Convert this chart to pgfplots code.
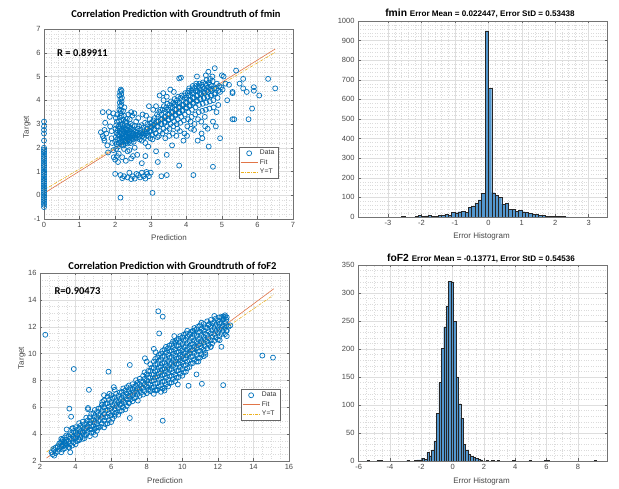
\documentclass[border=0pt]{standalone}
\usepackage{pgfplots}
\pgfplotsset{compat=1.18}
\usepackage{fontspec}
\setmainfont{Liberation Sans}
\newfontfamily\titlefont{Carlito}
\definecolor{mblue}{RGB}{0,114,189}
\definecolor{morange}{RGB}{217,83,25}
\definecolor{myellow}{RGB}{237,177,32}
\definecolor{barfill}{RGB}{83,151,206}
\definecolor{baredge}{RGB}{38,38,38}

\pgfplotsset{
  mstyle/.style={
    scale only axis,
    anchor=south west,
    axis line style={black!55, line width=0.5pt},
    tick style={black!60, line width=0.4pt},
    tick align=inside,
    major tick length=2.5pt,
    minor tick length=0pt,
    grid=both,
    major grid style={black!13, line width=0.35pt},
    minor grid style={black!14, dotted, line width=0.35pt},
    tick label style={font=\fontsize{7.5}{8}\selectfont, text=black!72},
    /pgf/number format/assume math mode=true,
    /pgf/number format/1000 sep={},
    scaled ticks=false,
  },
  lgstyle/.style={
    legend style={font=\fontsize{6.8}{7.5}\selectfont, draw=black!60, line width=0.4pt,
      fill=white, inner xsep=1.5pt, inner ysep=1pt, row sep=-0.8pt, text=black!80},
    legend cell align=left,
  },
  scat/.style={only marks, mark=o, mark size=2.5pt, mblue, line width=0.7pt},
  fitline/.style={morange!80, line width=0.6pt},
  ytline/.style={myellow, line width=0.6pt, dash pattern=on 3pt off 1.2pt on 0.6pt off 1.2pt},
  histbar/.style={ybar, bar shift=0pt, fill=barfill, draw=baredge, line width=0.35pt},
}

\begin{document}
\begin{tikzpicture}
\fill[white] (0pt,0pt) rectangle (619pt,489pt);

% ---------------- fmin: prediction vs target ----------------
\begin{axis}[mstyle, lgstyle, at={(44pt,270pt)}, width=249pt, height=190pt,
  xmin=0, xmax=7, ymin=-1, ymax=7, xtick={0,...,7}, ytick={-1,...,7},
  minor tick num=4, clip=false,
  legend style={at={(0.94,0.379)}, anchor=north east}]
\addplot[scat] coordinates {
(0,-0.50)(0,-0.40)(0,-0.32)(0,-0.25)(0,-0.18)(0,-0.10)(0,-0.03)(0,0.05)(0,0.12)(0,0.20)(0,0.28)(0,0.35)(0,0.42)(0,0.50)(0,0.58)(0,0.65)(0,0.72)(0,0.80)(0,0.88)(0,0.95)(0,1.02)(0,1.10)(0,1.18)(0,1.25)(0,1.32)(0,1.40)(0,1.48)(0,1.55)(0,1.62)(0,1.70)(0,1.78)(0,1.85)(0,1.92)(0,2.00)(0,2.30)(0,2.60)(0,2.75)(0,2.90)(0,3.10)
(2.00,2.25)(2.02,2.45)(2.04,2.62)(2.01,2.80)(2.03,2.95)(2.05,3.10)(2.06,2.35)(2.08,2.55)(2.07,2.72)(2.09,2.88)(2.02,3.25)(2.06,3.40)(2.04,2.15)(2.08,2.05)(2.03,1.95)
(2.10,2.20)(2.12,2.38)(2.11,2.50)(2.13,2.66)(2.12,2.82)(2.14,2.98)(2.11,3.12)(2.13,3.28)(2.15,3.45)(2.12,3.60)(2.14,3.75)(2.13,3.90)(2.15,4.05)(2.12,4.20)(2.14,4.35)(2.16,4.45)(2.18,4.40)(2.17,4.25)(2.19,4.10)(2.18,3.95)(2.17,3.80)(2.16,3.55)(2.18,3.35)(2.17,3.15)(2.16,2.90)(2.18,2.75)(2.17,2.58)(2.19,2.42)(2.16,2.28)(2.18,2.12)
(2.20,2.22)(2.22,2.35)(2.21,2.48)(2.23,2.60)(2.22,2.72)(2.24,2.85)(2.21,3.00)(2.23,3.18)(2.25,3.35)(2.22,3.55)(2.26,2.30)(2.27,2.45)(2.28,2.55)(2.26,2.68)(2.29,2.80)(2.27,2.95)(2.28,3.10)(2.26,3.70)(2.24,2.10)(2.29,2.20)
(2.30,2.28)(2.32,2.40)(2.31,2.52)(2.33,2.64)(2.32,2.78)(2.34,2.92)(2.31,3.05)(2.33,3.22)(2.36,2.35)(2.37,2.48)(2.38,2.60)(2.36,2.74)(2.39,2.88)(2.37,3.40)(2.35,2.18)(2.39,2.25)
(2.40,2.32)(2.42,2.45)(2.41,2.58)(2.43,2.70)(2.42,2.85)(2.44,3.00)(2.41,3.20)(2.46,2.38)(2.47,2.50)(2.48,2.62)(2.46,2.78)(2.49,2.95)(2.45,3.50)(2.48,3.35)(2.44,2.20)
(2.50,2.35)(2.52,2.48)(2.51,2.60)(2.53,2.75)(2.55,2.92)(2.56,2.42)(2.58,2.55)(2.57,2.68)(2.59,3.10)(2.54,3.45)(2.52,2.25)
(2.60,2.40)(2.62,2.52)(2.61,2.65)(2.63,2.80)(2.66,2.45)(2.68,2.58)(2.67,2.90)(2.65,3.25)(2.69,2.35)
(2.70,2.50)(2.72,2.62)(2.71,2.75)(2.74,2.95)(2.76,2.48)(2.78,2.60)(2.77,3.40)(2.79,2.85)(2.75,2.30)
(2.80,2.55)(2.82,2.70)(2.81,2.42)(2.84,3.05)(2.86,2.60)(2.88,2.78)(2.87,3.35)(2.89,2.50)(2.85,2.20)
(2.90,2.62)(2.92,2.80)(2.91,3.00)(2.94,2.50)(2.96,2.70)(2.98,2.90)(2.97,3.20)(2.95,3.75)(2.99,2.40)(2.93,2.05)
(3.00,2.70)(3.02,2.85)(3.01,3.05)(3.04,2.55)(3.06,2.95)(3.08,3.15)(3.07,3.60)(3.05,2.35)(3.09,2.75)
(3.10,2.80)(3.12,3.00)(3.11,3.25)(3.14,2.60)(3.16,3.10)(3.18,3.40)(3.17,2.90)(3.15,3.75)(3.19,2.45)
(3.20,2.90)(3.22,3.10)(3.21,3.30)(3.24,3.50)(3.26,2.70)(3.28,3.20)(3.27,3.60)(3.25,4.20)(3.29,3.00)(3.23,2.50)
(3.30,3.00)(3.32,3.20)(3.31,3.40)(3.34,3.60)(3.36,2.80)(3.38,3.30)(3.37,3.75)(3.35,4.30)(3.39,3.05)(3.33,2.60)(3.36,4.00)
(3.40,3.10)(3.42,3.30)(3.41,3.50)(3.44,3.70)(3.46,2.90)(3.48,3.40)(3.47,3.85)(3.45,4.15)(3.49,3.15)(3.43,2.70)(3.46,3.60)(3.41,2.40)
(3.50,3.20)(3.52,3.40)(3.51,3.60)(3.54,3.80)(3.56,3.00)(3.58,3.50)(3.57,3.95)(3.55,4.45)(3.59,3.25)(3.53,2.80)(3.56,3.70)(3.52,2.50)
(3.60,3.30)(3.62,3.50)(3.61,3.70)(3.64,3.90)(3.66,3.10)(3.68,3.60)(3.67,4.05)(3.65,4.35)(3.69,3.35)(3.63,2.90)(3.66,3.80)(3.62,2.60)
(3.70,3.40)(3.72,3.60)(3.71,3.80)(3.74,4.00)(3.76,3.20)(3.78,3.70)(3.77,4.15)(3.75,2.80)(3.79,3.45)(3.73,3.00)(3.76,3.90)(3.72,2.50)
(3.80,3.50)(3.82,3.70)(3.81,3.90)(3.84,4.10)(3.86,3.30)(3.88,3.80)(3.87,4.20)(3.85,4.95)(3.89,3.55)(3.83,3.05)(3.80,4.92)(3.82,2.70)
(3.90,3.60)(3.92,3.80)(3.91,4.00)(3.94,4.20)(3.96,3.40)(3.98,3.90)(3.97,4.30)(3.95,2.60)(3.99,3.65)(3.93,3.15)(3.96,4.10)(3.92,2.30)
(4.00,3.70)(4.02,3.90)(4.01,4.10)(4.04,4.30)(4.06,3.50)(4.08,4.00)(4.07,4.40)(4.05,3.20)(4.09,3.75)(4.03,2.90)(4.06,4.20)(4.02,2.50)(4.08,4.50)
(4.10,3.80)(4.12,4.00)(4.11,4.20)(4.14,4.40)(4.16,3.60)(4.18,4.10)(4.17,4.50)(4.15,3.30)(4.19,3.85)(4.13,2.80)(4.16,4.30)(4.12,3.10)(4.18,4.60)
(4.20,3.90)(4.22,4.10)(4.21,4.30)(4.24,4.50)(4.26,3.70)(4.28,4.20)(4.27,4.60)(4.25,3.40)(4.29,3.95)(4.23,3.00)(4.26,4.40)(4.22,2.75)(4.28,4.70)
(4.30,4.00)(4.32,4.20)(4.31,4.40)(4.34,4.60)(4.36,3.80)(4.38,4.30)(4.37,4.70)(4.35,3.50)(4.39,4.05)(4.33,3.20)(4.36,4.50)(4.32,2.30)(4.30,5.00)
(4.40,4.05)(4.42,4.25)(4.41,4.45)(4.44,4.65)(4.46,3.85)(4.48,4.35)(4.47,4.75)(4.45,3.55)(4.49,4.10)(4.43,2.60)(4.46,4.55)(4.42,3.10)(4.45,2.40)
(4.50,4.10)(4.52,4.30)(4.51,4.50)(4.54,4.70)(4.56,3.90)(4.58,4.40)(4.57,4.85)(4.55,3.60)(4.59,4.15)(4.53,2.90)(4.56,4.60)(4.52,3.30)(4.55,5.05)
(4.60,4.15)(4.62,4.35)(4.61,4.55)(4.64,4.75)(4.66,3.95)(4.68,4.45)(4.67,4.90)(4.65,3.65)(4.69,4.20)(4.63,2.05)(4.66,4.65)(4.62,5.20)(4.60,2.80)
(4.70,4.20)(4.72,4.40)(4.71,4.60)(4.74,4.80)(4.76,4.00)(4.78,4.50)(4.77,3.70)(4.75,3.10)(4.79,4.25)(4.73,5.00)(4.80,5.35)
(4.82,4.30)(4.84,4.50)(4.86,4.70)(4.88,4.10)(4.90,4.40)(4.92,4.60)(4.95,4.35)(4.98,4.55)(5.00,5.05)(5.05,5.00)(4.85,3.50)(4.90,3.80)(4.95,2.40)(4.83,2.90)(5.02,4.45)(5.10,4.70)(5.15,4.00)
(1.65,3.50)(1.72,3.05)(1.75,2.60)(1.65,2.50)(1.70,2.30)(1.78,2.10)(1.80,1.80)(1.90,2.70)(1.85,3.30)(1.90,2.40)(1.95,3.45)(1.86,2.90)(1.95,1.90)(1.96,1.60)(2.00,1.50)(1.82,3.50)(1.70,2.75)(1.92,2.20)(1.60,2.65)(1.68,2.40)
(2.10,1.75)(2.20,1.60)(2.30,1.45)(2.08,1.40)(2.05,1.65)(2.40,1.90)(2.50,1.65)(2.55,2.00)(2.62,1.70)(2.45,1.55)(2.35,1.85)(2.25,1.95)
(2.00,0.90)(2.15,0.85)(2.25,0.80)(2.35,0.75)(2.40,0.95)(2.50,0.80)(2.55,0.70)(2.60,0.90)(2.70,0.75)(2.75,0.95)(2.80,0.80)(2.85,0.70)(2.90,0.90)(2.95,0.80)(3.00,0.95)(2.45,0.68)(2.65,0.85)(2.20,0.72)(3.30,0.80)(3.45,0.85)(4.20,0.85)(2.88,0.98)
(2.15,-0.10)(3.05,0.10)(2.75,1.35)(3.20,1.40)(3.80,1.25)(4.75,1.20)(3.45,1.70)(2.85,1.65)(3.15,1.85)(3.60,2.10)
(5.30,3.20)(5.35,3.20)(5.75,3.20)(5.85,3.65)(5.50,4.70)(5.60,4.50)(5.30,4.30)(5.70,4.35)(5.90,4.55)(5.90,4.40)(6.05,4.20)(6.30,4.90)(6.50,4.50)(5.40,5.25)(5.60,4.90)(5.30,4.35)(5.20,4.65)
};
\addlegendentry{Data}
\addplot[fitline] coordinates {(0,0.08) (6.5,6.16)};
\addlegendentry{Fit}
\addplot[ytline] coordinates {(0,0.22) (6.5,6.02)};
\addlegendentry{Y=T}
\end{axis}

% ---------------- fmin: error histogram ----------------
\begin{axis}[mstyle, at={(358pt,272pt)}, width=249pt, height=196pt,
  xmin=-3.9, xmax=3.55, ymin=0, ymax=1000,
  xtick={-3,...,3}, ytick={0,100,...,1000}, minor tick num=4]
\addplot[histbar, bar width=0.1] coordinates {
(-2.55,5)(-2.15,2)(-2.05,10)(-1.95,5)(-1.85,6)(-1.75,10)(-1.65,5)(-1.55,5)(-1.45,8)(-1.35,7)
(-1.25,15)(-1.15,10)(-1.05,24)(-0.95,22)(-0.85,27)(-0.75,29)(-0.65,24)(-0.55,48)(-0.45,56)(-0.35,70)
(-0.25,87)(-0.15,121)(-0.05,949)(0.05,656)(0.15,124)(0.25,112)(0.35,100)(0.45,66)(0.55,70)(0.65,39)
(0.75,39)(0.85,29)(0.95,34)(1.05,27)(1.15,24)(1.25,19)(1.35,14)(1.45,15)(1.55,10)(1.65,7)
(1.75,3)(1.85,2)(1.95,2)(2.05,2)(2.15,3)(2.25,3)(2.35,1)
};
\end{axis}

% ---------------- foF2: prediction vs target ----------------
\begin{axis}[mstyle, lgstyle, at={(40pt,28pt)}, width=249pt, height=188pt,
  xmin=2, xmax=16, ymin=2, ymax=16, xtick={2,4,...,16}, ytick={2,4,...,16},
  minor tick num=3, clip=false,
  legend style={at={(0.964,0.383)}, anchor=north east}]
\addplot[scat] coordinates {
(2.80,2.40)(2.88,2.60)(2.80,2.80)(2.88,3.00)
(3.00,2.70)(3.08,2.90)(3.00,3.10)(3.08,3.30)
(3.20,2.65)(3.28,2.85)(3.20,3.05)(3.28,3.25)(3.20,3.45)(3.28,3.60)
(3.40,2.95)(3.48,3.15)(3.40,3.35)(3.48,3.55)(3.40,3.75)(3.48,3.90)
(3.60,3.05)(3.68,3.25)(3.60,3.45)(3.68,3.65)(3.60,3.85)(3.68,4.00)
(3.80,3.15)(3.88,3.38)(3.80,3.60)(3.88,3.80)(3.80,4.00)(3.88,4.22)(3.80,4.42)
(4.00,3.25)(4.08,3.48)(4.00,3.70)(4.08,3.90)(4.00,4.10)(4.08,4.32)(4.00,4.52)
(4.20,3.55)(4.28,3.78)(4.20,4.00)(4.28,4.20)(4.20,4.40)(4.28,4.62)(4.20,4.82)
(4.40,3.65)(4.48,3.88)(4.40,4.10)(4.48,4.30)(4.40,4.50)(4.48,4.72)(4.40,4.92)
(4.60,3.95)(4.68,4.18)(4.60,4.40)(4.68,4.60)(4.60,4.80)(4.68,5.02)(4.60,5.22)
(4.80,3.85)(4.88,4.10)(4.80,4.35)(4.88,4.58)(4.80,4.80)(4.88,5.02)(4.80,5.25)(4.88,5.50)
(5.00,4.15)(5.08,4.40)(5.00,4.65)(5.08,4.88)(5.00,5.10)(5.08,5.32)(5.00,5.55)(5.08,5.80)
(5.20,4.25)(5.28,4.50)(5.20,4.75)(5.28,4.98)(5.20,5.20)(5.28,5.42)(5.20,5.65)(5.28,5.90)
(5.40,4.55)(5.48,4.80)(5.40,5.05)(5.48,5.28)(5.40,5.50)(5.48,5.72)(5.40,5.95)(5.48,6.20)
(5.60,4.50)(5.68,4.75)(5.60,5.00)(5.68,5.25)(5.60,5.50)(5.68,5.75)(5.60,6.00)(5.68,6.25)(5.60,6.50)
(5.80,4.80)(5.88,5.05)(5.80,5.30)(5.88,5.55)(5.80,5.80)(5.88,6.05)(5.80,6.30)(5.88,6.55)(5.80,6.80)
(6.00,4.90)(6.08,5.15)(6.00,5.40)(6.08,5.65)(6.00,5.90)(6.08,6.15)(6.00,6.40)(6.08,6.65)(6.00,6.90)
(6.20,5.35)(6.28,5.60)(6.20,5.85)(6.28,6.08)(6.20,6.30)(6.28,6.52)(6.20,6.75)(6.28,7.00)
(6.40,5.45)(6.48,5.70)(6.40,5.95)(6.48,6.18)(6.40,6.40)(6.48,6.62)(6.40,6.85)(6.48,7.10)
(6.60,5.75)(6.68,6.00)(6.60,6.25)(6.68,6.48)(6.60,6.70)(6.68,6.92)(6.60,7.15)(6.68,7.40)
(6.80,5.85)(6.88,6.10)(6.80,6.35)(6.88,6.58)(6.80,6.80)(6.88,7.02)(6.80,7.25)(6.88,7.50)
(7.00,6.35)(7.08,6.58)(7.00,6.80)(7.08,7.00)(7.00,7.20)(7.08,7.42)(7.00,7.62)
(7.20,6.45)(7.28,6.68)(7.20,6.90)(7.28,7.10)(7.20,7.30)(7.28,7.52)(7.20,7.72)
(7.40,6.75)(7.48,6.98)(7.40,7.20)(7.48,7.40)(7.40,7.60)(7.48,7.82)(7.40,8.02)
(7.60,6.85)(7.68,7.08)(7.60,7.30)(7.68,7.50)(7.60,7.70)(7.68,7.92)(7.60,8.12)
(7.80,6.95)(7.88,7.20)(7.80,7.45)(7.88,7.68)(7.80,7.90)(7.88,8.12)(7.80,8.35)(7.88,8.60)
(8.00,7.05)(8.08,7.30)(8.00,7.55)(8.08,7.78)(8.00,8.00)(8.08,8.22)(8.00,8.45)(8.08,8.70)
(8.20,7.20)(8.28,7.45)(8.20,7.70)(8.28,7.95)(8.20,8.20)(8.28,8.45)(8.20,8.70)(8.28,8.95)(8.20,9.20)
(8.40,7.00)(8.48,7.25)(8.40,7.50)(8.48,7.75)(8.40,8.00)(8.48,8.22)(8.40,8.45)(8.48,8.68)(8.40,8.92)(8.48,9.16)(8.40,9.40)(8.48,9.60)
(8.60,7.30)(8.68,7.55)(8.60,7.80)(8.68,8.05)(8.60,8.30)(8.68,8.52)(8.60,8.75)(8.68,8.98)(8.60,9.22)(8.68,9.46)(8.60,9.70)(8.68,9.90)
(8.80,7.15)(8.88,7.40)(8.80,7.65)(8.88,7.90)(8.80,8.15)(8.88,8.38)(8.80,8.60)(8.88,8.82)(8.80,9.05)(8.88,9.28)(8.80,9.52)(8.88,9.76)(8.80,10.00)(8.88,10.20)
(9.00,7.45)(9.08,7.70)(9.00,7.95)(9.08,8.20)(9.00,8.45)(9.08,8.68)(9.00,8.90)(9.08,9.12)(9.00,9.35)(9.08,9.58)(9.00,9.82)(9.08,10.06)(9.00,10.30)(9.08,10.50)
(9.20,7.55)(9.28,7.80)(9.20,8.05)(9.28,8.30)(9.20,8.55)(9.28,8.78)(9.20,9.00)(9.28,9.22)(9.20,9.45)(9.28,9.68)(9.20,9.92)(9.28,10.16)(9.20,10.40)(9.28,10.60)
(9.40,7.85)(9.48,8.10)(9.40,8.35)(9.48,8.60)(9.40,8.85)(9.48,9.08)(9.40,9.30)(9.48,9.52)(9.40,9.75)(9.48,9.98)(9.40,10.22)(9.48,10.46)(9.40,10.70)(9.48,10.90)
(9.60,7.95)(9.68,8.20)(9.60,8.45)(9.68,8.70)(9.60,8.95)(9.68,9.18)(9.60,9.40)(9.68,9.62)(9.60,9.85)(9.68,10.08)(9.60,10.32)(9.68,10.56)(9.60,10.80)(9.68,11.00)
(9.80,8.25)(9.88,8.50)(9.80,8.75)(9.88,9.00)(9.80,9.25)(9.88,9.48)(9.80,9.70)(9.88,9.92)(9.80,10.15)(9.88,10.38)(9.80,10.62)(9.88,10.86)(9.80,11.10)(9.88,11.30)
(10.00,8.35)(10.08,8.60)(10.00,8.85)(10.08,9.10)(10.00,9.35)(10.08,9.58)(10.00,9.80)(10.08,10.02)(10.00,10.25)(10.08,10.48)(10.00,10.72)(10.08,10.96)(10.00,11.20)(10.08,11.40)
(10.20,8.65)(10.28,8.90)(10.20,9.15)(10.28,9.40)(10.20,9.65)(10.28,9.88)(10.20,10.10)(10.28,10.32)(10.20,10.55)(10.28,10.78)(10.20,11.02)(10.28,11.26)(10.20,11.50)(10.28,11.70)
(10.40,9.00)(10.48,9.25)(10.40,9.50)(10.48,9.75)(10.40,10.00)(10.48,10.22)(10.40,10.45)(10.48,10.68)(10.40,10.92)(10.48,11.16)(10.40,11.40)(10.48,11.60)
(10.60,9.30)(10.68,9.55)(10.60,9.80)(10.68,10.05)(10.60,10.30)(10.68,10.52)(10.60,10.75)(10.68,10.98)(10.60,11.22)(10.68,11.46)(10.60,11.70)(10.68,11.90)
(10.80,9.40)(10.88,9.65)(10.80,9.90)(10.88,10.15)(10.80,10.40)(10.88,10.62)(10.80,10.85)(10.88,11.08)(10.80,11.32)(10.88,11.56)(10.80,11.80)(10.88,12.00)
(11.00,9.70)(11.08,9.95)(11.00,10.20)(11.08,10.45)(11.00,10.70)(11.08,10.92)(11.00,11.15)(11.08,11.38)(11.00,11.62)(11.08,11.86)(11.00,12.10)(11.08,12.30)
(11.20,9.80)(11.28,10.05)(11.20,10.30)(11.28,10.55)(11.20,10.80)(11.28,11.02)(11.20,11.25)(11.28,11.48)(11.20,11.72)(11.28,11.96)(11.20,12.20)
(11.40,10.40)(11.48,10.65)(11.40,10.90)(11.48,11.15)(11.40,11.40)(11.48,11.65)(11.40,11.90)(11.48,12.15)(11.40,12.40)
(11.60,10.50)(11.68,10.75)(11.60,11.00)(11.68,11.25)(11.60,11.50)(11.68,11.75)(11.60,12.00)(11.68,12.25)(11.60,12.50)
(11.80,10.95)(11.88,11.20)(11.80,11.45)(11.88,11.68)(11.80,11.90)(11.88,12.12)(11.80,12.35)(11.88,12.60)
(12.00,11.05)(12.08,11.30)(12.00,11.55)(12.08,11.78)(12.00,12.00)(12.08,12.22)(12.00,12.45)(12.08,12.70)
(12.20,11.45)(12.28,11.68)(12.20,11.90)(12.28,12.10)(12.20,12.30)(12.28,12.52)(12.20,12.72)
(12.40,11.45)(12.48,11.68)(12.40,11.90)(12.48,12.10)(12.40,12.30)(12.48,12.52)(12.40,12.72)
(2.30,11.40)(3.90,8.85)(4.75,7.30)(5.85,8.65)(3.65,5.90)(3.75,5.30)(3.65,3.00)(3.70,2.65)(2.70,2.50)(2.65,2.65)(2.75,2.90)(3.20,3.65)(3.50,4.35)(5.10,3.95)(4.70,5.85)(4.70,5.95)(7.05,5.20)(8.90,5.00)(8.65,13.15)(8.90,12.75)(8.70,11.50)(7.05,9.15)(14.50,9.85)(15.10,9.70)(12.30,7.65)(11.10,7.75)(10.35,7.60)(9.75,7.70)(10.80,8.45)(11.80,12.80)(12.30,12.75)(12.40,12.85)(12.50,12.70)(12.60,12.00)(12.50,11.70)(12.50,11.30)(12.70,12.10)(12.30,12.55)(6.15,7.50)(7.90,9.65)(8.00,9.40)(8.50,10.10)(8.40,10.35)(9.60,10.90)(9.55,11.30)(10.60,11.65)(11.50,12.20)(5.90,7.00)(6.20,7.30)(5.60,6.90)(6.50,6.20)(4.40,4.10)(3.45,3.30)(3.85,4.45)(4.90,4.35)(5.50,6.40)(7.50,6.50)(8.20,7.30)(8.55,7.30)(10.90,9.40)(11.60,10.50)(12.10,11.00)(12.20,10.50)(11.30,9.90)(9.00,7.25)(7.00,6.30)(6.20,5.50)(5.20,4.50)(4.20,3.60)(3.90,3.70)(4.50,3.70)(4.10,4.00)(3.35,3.45)(3.15,3.35)(3.30,3.10)
};
\addlegendentry{Data}
\addplot[fitline] coordinates {(2.37,2.22) (15.15,14.83)};
\addlegendentry{Fit}
\addplot[ytline] coordinates {(2.37,2.67) (15.15,14.38)};
\addlegendentry{Y=T}
\end{axis}

% ---------------- foF2: error histogram ----------------
\begin{axis}[mstyle, at={(358pt,28pt)}, width=249pt, height=196pt,
  xmin=-6.04, xmax=9.86, ymin=0, ymax=350,
  xtick={-6,-4,...,8}, ytick={0,50,...,350}, minor x tick num=3, minor y tick num=4]
\addplot[histbar, bar width=0.155] coordinates {
(-5.40,1)(-4.75,1)(-4.55,1)(-2.85,1)(-2.35,1)(-2.20,2)
(-2.04,2)(-1.88,5)(-1.73,3)(-1.57,15)(-1.42,8)(-1.26,20)(-1.11,36)(-0.95,85)(-0.80,140)(-0.64,201)
(-0.49,239)(-0.33,277)(-0.18,321)(-0.02,320)(0.13,249)(0.29,150)(0.44,102)(0.60,76)(0.75,30)(0.91,20)
(1.06,12)(1.22,8)(1.37,6)(1.53,5)(1.68,3)(1.84,2)
(2.20,1)(2.55,1)(2.90,1)(3.90,1)(4.95,1)(5.90,1)(6.10,1)(9.10,1)
};
\end{axis}

% ---------------- titles and axis labels ----------------
\node[font=\titlefont\bfseries\fontsize{10.5}{11}\selectfont] at (176pt,475pt)
  {Correlation Prediction with Groundtruth of fmin};
\node[font=\titlefont\bfseries\fontsize{10.5}{11}\selectfont] at (172.5pt,223pt)
  {Correlation Prediction with Groundtruth of foF2};
\node[font=\bfseries] at (480pt,475.5pt)
  {\fontsize{10.3}{11}\selectfont fmin \fontsize{8.1}{9}\selectfont Error Mean = 0.022447, Error StD = 0.53438};
\node[font=\bfseries] at (481pt,231pt)
  {\fontsize{10.3}{11}\selectfont foF2 \fontsize{8.1}{9}\selectfont Error Mean = -0.13771, Error StD = 0.54536};

\node[font=\titlefont\bfseries\fontsize{10.5}{11}\selectfont] at (82.5pt,436.5pt) {R = 0.89911};
\node[font=\titlefont\bfseries\fontsize{10.5}{11}\selectfont] at (77.5pt,197.5pt) {R=0.90473};

\node[font=\fontsize{8}{9}\selectfont, text=black!72] at (169pt,251pt) {Prediction};
\node[font=\fontsize{8}{9}\selectfont, text=black!72, rotate=90] at (27pt,362pt) {Target};
\node[font=\fontsize{8}{9}\selectfont, text=black!72] at (165pt,8pt) {Prediction};
\node[font=\fontsize{8}{9}\selectfont, text=black!72, rotate=90] at (22pt,131pt) {Target};
\node[font=\fontsize{8}{9}\selectfont, text=black!72] at (481.5pt,253pt) {Error Histogram};
\node[font=\fontsize{8}{9}\selectfont, text=black!72] at (481.5pt,8pt) {Error Histogram};

\pgfresetboundingbox
\path[use as bounding box] (0pt,0pt) rectangle (619pt,489pt);
\end{tikzpicture}
\end{document}
